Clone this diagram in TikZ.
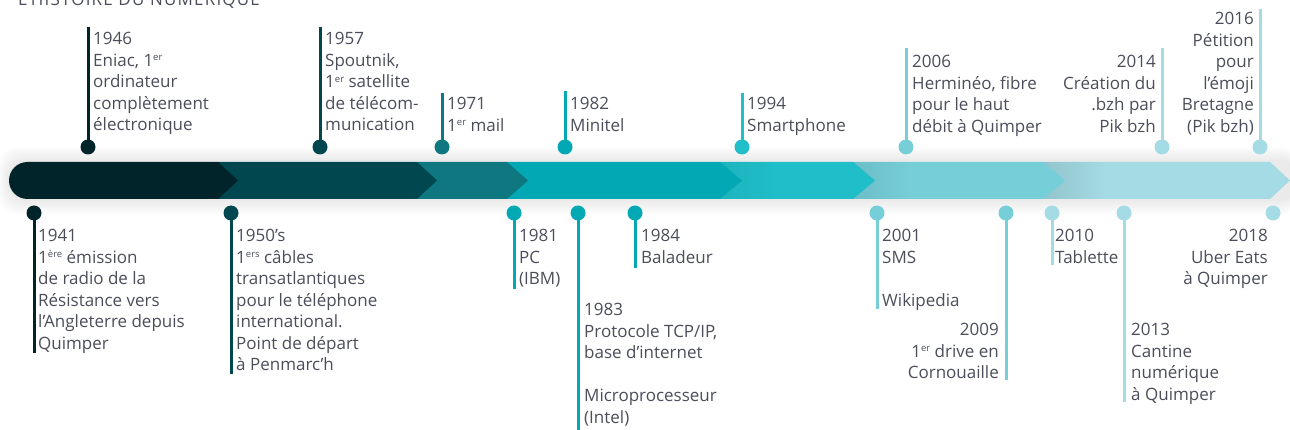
\documentclass[tikz,border=0pt]{standalone}
\usepackage{fontspec}
\setmainfont{Open Sans}
\usetikzlibrary{fadings}
\definecolor{c1}{HTML}{00242A}
\definecolor{c2}{HTML}{00474F}
\definecolor{c3}{HTML}{0F7780}
\definecolor{c4}{HTML}{02A9B5}
\definecolor{c5}{HTML}{20BEC8}
\definecolor{c6}{HTML}{76CED9}
\definecolor{c7}{HTML}{A4DBE4}
\definecolor{txt}{HTML}{4B4E5A}
\tikzfading[name=fadeR, left color=transparent!0, right color=transparent!100]
\newcommand\sups[1]{\raisebox{0.6ex}{\fontsize{9.5}{9.5}\selectfont #1}}
\begin{document}
\begin{tikzpicture}[x=1pt,y=-1pt,
  lab/.style={inner sep=0pt, text=txt, font=\fontsize{17}{21.5}\selectfont},
  stem/.style={line width=3pt},
  dot/.style={circle, inner sep=0pt, minimum size=15pt}]
\useasboundingbox (0,0) rectangle (1290,430);
% title
\node[lab, anchor=base west, font=\fontsize{17}{21.5}\selectfont\addfontfeature{LetterSpace=7}] (title) at (18,6) {L’HISTOIRE DU NUMÉRIQUE};
% band shadow
\foreach \k in {1,...,7}
  \fill[black, opacity=0.012, rounded corners=20pt] (9-\k*1.5,162-\k*2.2) rectangle (1300,199+\k*2.2);
% band segments, right to left
\fill[c7] (1043,162) -- (1270,162) -- (1290,180.5) -- (1270,199) -- (1043,199) -- cycle;
\fill[black, fill opacity=0.10, path fading=fadeR] (1043,162) rectangle (1105,199);
\fill[c6] (853,162) -- (1043,162) -- (1065,180.5) -- (1043,199) -- (853,199) -- cycle;
\fill[black, fill opacity=0.08, path fading=fadeR] (853,162) rectangle (910,199);
\fill[c5] (720,162) -- (853,162) -- (875,180.5) -- (853,199) -- (720,199) -- cycle;
\fill[black, fill opacity=0.05, path fading=fadeR] (720,162) rectangle (775,199);
\fill[c4] (507,162) -- (720,162) -- (742,180.5) -- (720,199) -- (507,199) -- cycle;
\fill[c3] (417,162) -- (507,162) -- (528,180.5) -- (507,199) -- (417,199) -- cycle;
\fill[c2] (218,162) -- (417,162) -- (437,180.5) -- (417,199) -- (218,199) -- cycle;
\fill[c1] (27.5,180.5) circle (18.5pt);
\fill[c1] (27.5,162) -- (218,162) -- (238,180.5) -- (218,199) -- (27.5,199) -- cycle;
% top markers
\foreach \n/\x/\t/\c in {1946/88/27/c1, 1957/320/27/c2, 1971/442/93/c3, 1982/565/91/c4,
  1994/742/93/c5, 2006/906/48/c6, 2014/1162/48/c7, 2016/1260/9/c7}{
  \coordinate (e\n) at (\x,\t);
  \coordinate (p\n) at (\x,147);
  \draw[stem, \c] (e\n) -- (p\n);
  \node[dot, fill=\c] (d\n) at (p\n) {};
}
% bottom markers
\foreach \n/\x/\t/\c in {1941/34/353/c1, 1950/231/374/c2, 1981/514/289/c4, 1983/578/432/c4,
  1984/635/268/c4, 2001/877/309/c6, 2009/1006/380/c6, 2010/1052/265/c7, 2013/1124/402/c7}{
  \coordinate (e\n) at (\x,\t);
  \coordinate (p\n) at (\x,213);
  \draw[stem, \c] (p\n) -- (e\n);
  \node[dot, fill=\c] (d\n) at (p\n) {};
}
\node[dot, fill=c7] (d2018) at (1273,213) {};
% top labels
\node[lab, anchor=north west, align=left] (t1946) at (93,32) {1946\\Eniac, 1\sups{er}\\ordinateur\\complètement\\électronique};
\node[lab, anchor=north west, align=left] (t1957) at (325,32) {1957\\Spoutnik,\\1\sups{er} satellite\\de télécom-\\munication};
\node[lab, anchor=north west, align=left] (t1971) at (447,97) {1971\\1\sups{er} mail};
\node[lab, anchor=north west, align=left] (t1982) at (570,97) {1982\\Minitel};
\node[lab, anchor=north west, align=left] (t1994) at (747,97) {1994\\Smartphone};
\node[lab, anchor=north west, align=left] (t2006) at (912,55) {2006\\Herminéo, fibre\\pour le haut\\débit à Quimper};
\node[lab, anchor=north east, align=right] (t2014) at (1156,55) {2014\\Création du\\.bzh par\\Pik bzh};
\node[lab, anchor=north east, align=right] (t2016) at (1254,12) {2016\\Pétition\\pour\\l’émoji\\Bretagne\\(Pik bzh)};
% bottom labels
\node[lab, anchor=north west, align=left] (t1941) at (38,229) {1941\\1\sups{ère} émission\\de radio de la\\Résistance vers\\l’Angleterre depuis\\Quimper};
\node[lab, anchor=north west, align=left] (t1950) at (236,229) {1950’s\\1\sups{ers} câbles\\transatlantiques\\pour le téléphone\\international.\\Point de départ\\à Penmarc’h};
\node[lab, anchor=north west, align=left] (t1981) at (519,229) {1981\\PC\\(IBM)};
\node[lab, anchor=north west, align=left] (t1983) at (584,303) {1983\\Protocole TCP/IP,\\base d’internet\\[21.5pt]Microprocesseur\\(Intel)};
\node[lab, anchor=north west, align=left] (t1984) at (641,229) {1984\\Baladeur};
\node[lab, anchor=north west, align=left] (t2001) at (882,229) {2001\\SMS\\[21.5pt]Wikipedia};
\node[lab, anchor=north east, align=right] (t2009) at (999,323) {2009\\1\sups{er} drive en\\Cornouaille};
\node[lab, anchor=north west, align=left] (t2010) at (1055,229) {2010\\Tablette};
\node[lab, anchor=north west, align=left] (t2013) at (1131,323) {2013\\Cantine\\numérique\\à Quimper};
\node[lab, anchor=north east, align=right] (t2018) at (1268,229) {2018\\Uber Eats\\à Quimper};
\end{tikzpicture}
\end{document}
